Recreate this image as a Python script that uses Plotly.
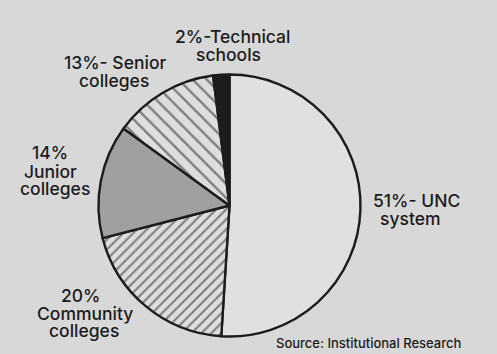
import plotly.graph_objects as go

# Data
categories = ["UNC system", "Community colleges", "Junior colleges", "Senior colleges", "Technical schools"]
shares = [51, 20, 14, 13, 2]
label_lines = [
    ["51%- UNC", "system"],
    ["20%", "Community", "colleges"],
    ["14%", "Junior", "colleges"],
    ["13%- Senior", "colleges"],
    ["2%-Technical", "schools"],
]
source_text = "Source: Institutional Research"

W, H = 497, 354
BG = "#d8d8d8"
INK = "#1c1c1c"
FONT = "Inter, Liberation Sans, Arial, sans-serif"

fills = ["#e0e0e0", "#dedede", "#a0a0a0", "#dedede", INK]
pattern = dict(
    shape=["", "/", "", "\\", ""],
    size=[8, 7, 8, 10, 8],
    solidity=[0.2, 0.3, 0.2, 0.24, 0.2],
    fgcolor=["#1e1e1e"] * 5,
    fillmode="overlay",
)

cx, cy, r = 229.5, 205.5, 131
fig = go.Figure(go.Pie(
    labels=categories,
    values=shares,
    sort=False,
    direction="clockwise",
    rotation=0,
    textinfo="none",
    hoverinfo="label+percent",
    showlegend=False,
    marker=dict(colors=fills, line=dict(color=INK, width=2.4), pattern=pattern),
    domain=dict(x=[(cx - r) / W, (cx + r) / W], y=[(H - cy - r) / H, (H - cy + r) / H]),
))

# label line positions (pixel centres) per category
label_pos = [
    [(416, 200), (410, 218)],
    [(80, 295), (85, 313), (84, 330)],
    [(50, 153), (50, 171), (55, 188)],
    [(115, 62), (114, 80)],
    [(232, 37), (228, 54)],
]

annotations = []
for lines, poss in zip(label_lines, label_pos):
    for txt, (px, py) in zip(lines, poss):
        annotations.append(dict(
            text=txt, x=px / W, y=1 - py / H, xref="paper", yref="paper",
            xanchor="center", yanchor="middle", showarrow=False,
            font=dict(family=FONT, size=17.5, color=INK, weight=500),
        ))
annotations.append(dict(
    text=source_text, x=368.5 / W, y=1 - 343 / H, xref="paper", yref="paper",
    xanchor="center", yanchor="middle", showarrow=False,
    font=dict(family=FONT, size=13, color=INK, weight=500),
))

fig.update_layout(
    width=W, height=H,
    margin=dict(l=0, r=0, t=0, b=0),
    paper_bgcolor=BG, plot_bgcolor=BG,
    annotations=annotations,
)

fig.write_html("out.html")
